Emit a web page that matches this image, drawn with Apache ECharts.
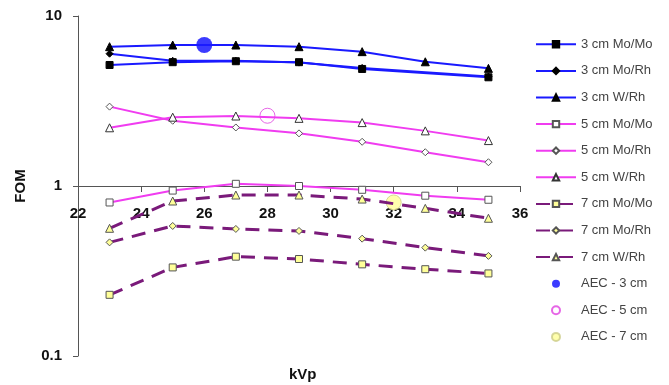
<!DOCTYPE html>
<html>
<head>
<meta charset="utf-8">
<script src="https://cdn.jsdelivr.net/npm/echarts@6/dist/echarts.min.js"></script>
<style>
  html, body { margin: 0; padding: 0; background: #fff; }
  #chart { width: 669px; height: 385px; }
</style>
</head>
<body>
<div id="chart"></div>
<script>
// kVp positions of the measured points
var kvp = [23, 25, 27, 29, 31, 33, 35];

// FOM values (null = no point)
var cm3MoMo = [5.15, 5.35, 5.42, 5.35, 4.88, null, 4.36];
var cm3MoRh = [6.0, 5.45, 5.45, 5.32, 4.95, null, 4.4];
var cm3WRh  = [6.6, 6.75, 6.75, 6.6, 6.17, 5.38, 4.92];
var cm5MoMo = [0.80, 0.94, 1.03, 1.0, 0.95, 0.877, 0.83];
var cm5MoRh = [2.93, 2.42, 2.21, 2.04, 1.82, 1.58, 1.38];
var cm5WRh  = [2.2, 2.54, 2.58, 2.5, 2.36, 2.11, 1.85];
var cm7MoMo = [0.229, 0.332, 0.384, 0.372, 0.346, 0.324, 0.306];
var cm7MoRh = [0.466, 0.582, 0.559, 0.544, 0.49, 0.434, 0.388];
var cm7WRh  = [0.564, 0.816, 0.885, 0.885, 0.838, 0.739, 0.646];

// AEC operating points [kVp, FOM]
var aec3 = [[26, 6.75]];
var aec5 = [[28, 2.59]];
var aec7 = [[32, 0.80]];

var xTicks = [22, 36, 2];

function pairs(vals){
  return kvp.map(function(k, i){ return [k, vals[i]] })
}

function lineSeries(name, vals, color, width, dash, symbol, fill, border){
  return {
    name: name,
    type: 'line',
    data: pairs(vals),
    connectNulls: true,
    symbol: symbol,
    symbolSize: symbol == 'triangle' ? 8 : 7,
    lineStyle: { color: color, width: width, type: dash },
    itemStyle: { color: fill, borderColor: border, borderWidth: 1 }
  }
}

var chart = echarts.init(document.getElementById('chart'))
var font = 'Arial, "Liberation Sans", sans-serif'

var option = {
  animation: false,
  textStyle: { fontFamily: font },
  grid: { left: 78, top: 16, width: 442, height: 340 },
  legend: {
    orient: 'vertical',
    left: 535,
    top: 31,
    padding: 0,
    itemWidth: 40,
    itemHeight: 8,
    itemGap: 0,
    textStyle: { fontSize: 13, lineHeight: 26.6, color: '#444', fontFamily: font }
  },
  xAxis: {
    type: 'value',
    min: xTicks[0],
    max: xTicks[1],
    interval: xTicks[2],
    position: 'bottom',
    offset: -170,
    axisLine: { lineStyle: { color: '#555', width: 1 } },
    axisTick: { length: 6, lineStyle: { color: '#555' } },
    axisLabel: { margin: 20, fontSize: 15, fontWeight: 'bold', color: '#111' },
    splitLine: { show: false }
  },
  yAxis: {
    type: 'log',
    logBase: 10,
    min: 0.1,
    max: 10,
    name: 'FOM',
    nameLocation: 'middle',
    nameGap: 50,
    nameTextStyle: { fontSize: 15, fontWeight: 'bold', color: '#111' },
    axisLine: { show: true, lineStyle: { color: '#555', width: 1 } },
    axisTick: { show: true, length: 5, lineStyle: { color: '#555' } },
    axisLabel: { margin: 16, fontSize: 15, fontWeight: 'bold', color: '#111' },
    splitLine: { show: false },
    minorTick: { show: false }
  },
  graphic: [{
    type: 'text',
    left: 289,
    top: 367,
    style: { text: 'kVp', font: 'bold 15px ' + font, fill: '#111' }
  }],
  series: [
    lineSeries('3 cm Mo/Mo', cm3MoMo, '#1a1aff', 2, 'solid', 'rect', '#000', '#000'),
    lineSeries('3 cm Mo/Rh', cm3MoRh, '#1a1aff', 2, 'solid', 'diamond', '#000', '#000'),
    lineSeries('3 cm W/Rh', cm3WRh, '#1a1aff', 2, 'solid', 'triangle', '#000', '#000'),
    lineSeries('5 cm Mo/Mo', cm5MoMo, '#f03cf0', 2, 'solid', 'rect', '#fff', '#555'),
    lineSeries('5 cm Mo/Rh', cm5MoRh, '#f03cf0', 2, 'solid', 'diamond', '#fff', '#555'),
    lineSeries('5 cm W/Rh', cm5WRh, '#f03cf0', 2, 'solid', 'triangle', '#fff', '#333'),
    lineSeries('7 cm Mo/Mo', cm7MoMo, '#7a1a7a', 3, [14, 9], 'rect', '#ffff99', '#555'),
    lineSeries('7 cm Mo/Rh', cm7MoRh, '#7a1a7a', 3, [14, 9], 'diamond', '#ffff99', '#555'),
    lineSeries('7 cm W/Rh', cm7WRh, '#7a1a7a', 3, [14, 9], 'triangle', '#ffff99', '#555'),
    {
      name: 'AEC - 3 cm', type: 'scatter', data: aec3, symbolSize: 16,
      itemStyle: { color: '#0a0aff' }
    },
    {
      name: 'AEC - 5 cm', type: 'scatter', data: aec5, symbolSize: 15,
      itemStyle: { color: 'rgba(255,255,255,0)', borderColor: '#e040e0', borderWidth: 1 }
    },
    {
      name: 'AEC - 7 cm', type: 'scatter', data: aec7, symbolSize: 15,
      itemStyle: { color: '#ffff99', borderColor: '#cccc88', borderWidth: 1 }
    }
  ]
}

chart.setOption(option)
</script>
</body>
</html>
